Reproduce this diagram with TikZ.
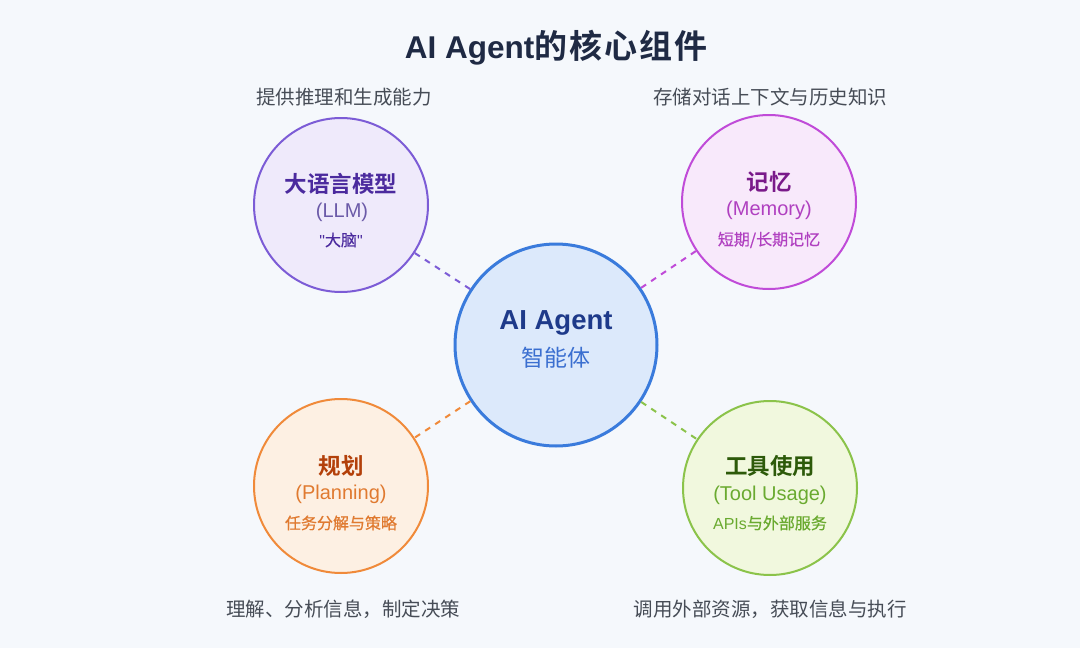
\documentclass[tikz,border=0pt]{standalone}
\usepackage{fontspec}
\setmainfont{Noto Sans CJK SC}[BoldFont={Noto Sans CJK SC Bold}]
\newfontfamily\lat{Liberation Sans}
\newfontfamily\titlecjk{Noto Sans CJK SC Bold}[LetterSpace=6]
\definecolor{bg}{HTML}{F5F8FC}
\definecolor{titlec}{HTML}{1F2A44}
\definecolor{descc}{HTML}{464C56}
\definecolor{cstroke}{HTML}{3A7BDC}
\definecolor{cfill}{HTML}{DCE9FB}
\definecolor{ctext}{HTML}{1E3A8A}
\definecolor{csub}{HTML}{3B6FD0}
\definecolor{lstroke}{HTML}{7C5CD6}
\definecolor{lfill}{HTML}{EFEAFB}
\definecolor{ltext}{HTML}{4B2A9E}
\definecolor{lsub}{HTML}{6B5AA8}
\definecolor{mstroke}{HTML}{C04BD8}
\definecolor{mfill}{HTML}{F8E9FB}
\definecolor{mtext}{HTML}{7A1A8A}
\definecolor{msub}{HTML}{B040C0}
\definecolor{pstroke}{HTML}{F08A3A}
\definecolor{pfill}{HTML}{FDF0E3}
\definecolor{ptext}{HTML}{B3400A}
\definecolor{psub}{HTML}{E07A30}
\definecolor{tstroke}{HTML}{8BC34A}
\definecolor{tfill}{HTML}{F1F8DE}
\definecolor{ttext}{HTML}{2D5A0A}
\definecolor{tsub}{HTML}{6AAA30}
\tikzset{
  outer/.style={circle, minimum size=174pt, inner sep=0pt, line width=2pt},
  inner/.style={circle, minimum size=202pt, inner sep=0pt, line width=3pt, draw=cstroke, fill=cfill},
  desc/.style={text=descc, font=\fontsize{19.5}{22}\selectfont},
  head/.style={font=\bfseries\fontsize{22.5}{26}\selectfont},
  eng/.style={font=\lat\fontsize{20}{23}\selectfont},
  sub/.style={font=\addfontfeature{FakeBold=0.6}\fontsize{16}{19}\selectfont},
  link/.style={line width=2pt, dash pattern=on 6pt off 6pt}
}
\begin{document}
\begin{tikzpicture}[x=1pt,y=-1pt]
\fill[bg] (0,0) rectangle (1080,648);
\useasboundingbox (0,0) rectangle (1080,648);
\node[text=titlec] (title) at (556,48) {{\lat\bfseries\fontsize{31.5}{36}\selectfont AI Agent}{\titlecjk\fontsize{33}{36}\selectfont 的核心组件}};

\node[outer, draw=lstroke, fill=lfill] (llm) at (341,205) {};
\node[outer, draw=mstroke, fill=mfill] (mem) at (769,202) {};
\node[outer, draw=pstroke, fill=pfill] (plan) at (341,486) {};
\node[outer, draw=tstroke, fill=tfill] (tool) at (770,488) {};
\node[inner] (core) at (556,345) {};

\draw[link, lstroke] (core) -- (llm);
\draw[link, mstroke] (core) -- (mem);
\draw[link, pstroke] (core) -- (plan);
\draw[link, tstroke] (core) -- (tool);

\node[desc] (d1) at (344,97) {提供推理和生成能力};
\node[desc] (d2) at (770,97) {存储对话上下文与历史知识};
\node[desc] (d3) at (343,609) {理解、分析信息，制定决策};
\node[desc] (d4) at (770,609) {调用外部资源，获取信息与执行};

\node[head, text=ltext] (l1) at (341,184) {大语言模型};
\node[eng, text=lsub] (l2) at (342,212) {(LLM)};
\node[sub, text=ltext] (l3) at (341,240) {{\lat"}大脑{\lat"}};

\node[head, text=mtext] (m1) at (769,182) {记忆};
\node[eng, text=msub] (m2) at (769,210) {(Memory)};
\node[sub, text=msub] (m3) at (769,240) {短期/长期记忆};

\node[head, text=ptext] (p1) at (341,466) {规划};
\node[eng, text=psub] (p2) at (341,494) {(Planning)};
\node[sub, text=psub] (p3) at (341,523) {任务分解与策略};

\node[head, text=ttext] (t1) at (770,466) {工具使用};
\node[eng, text=tsub] (t2) at (770,495) {(Tool Usage)};
\node[sub, text=tsub] (t3) at (770,523) {{\lat APIs}与外部服务};

\node[text=ctext, font=\lat\bfseries\fontsize{27.5}{31}\selectfont] (c1) at (556,323) {AI Agent};
\node[text=csub, font=\fontsize{23}{27}\selectfont] (c2) at (556,358) {智能体};
\end{tikzpicture}
\end{document}
